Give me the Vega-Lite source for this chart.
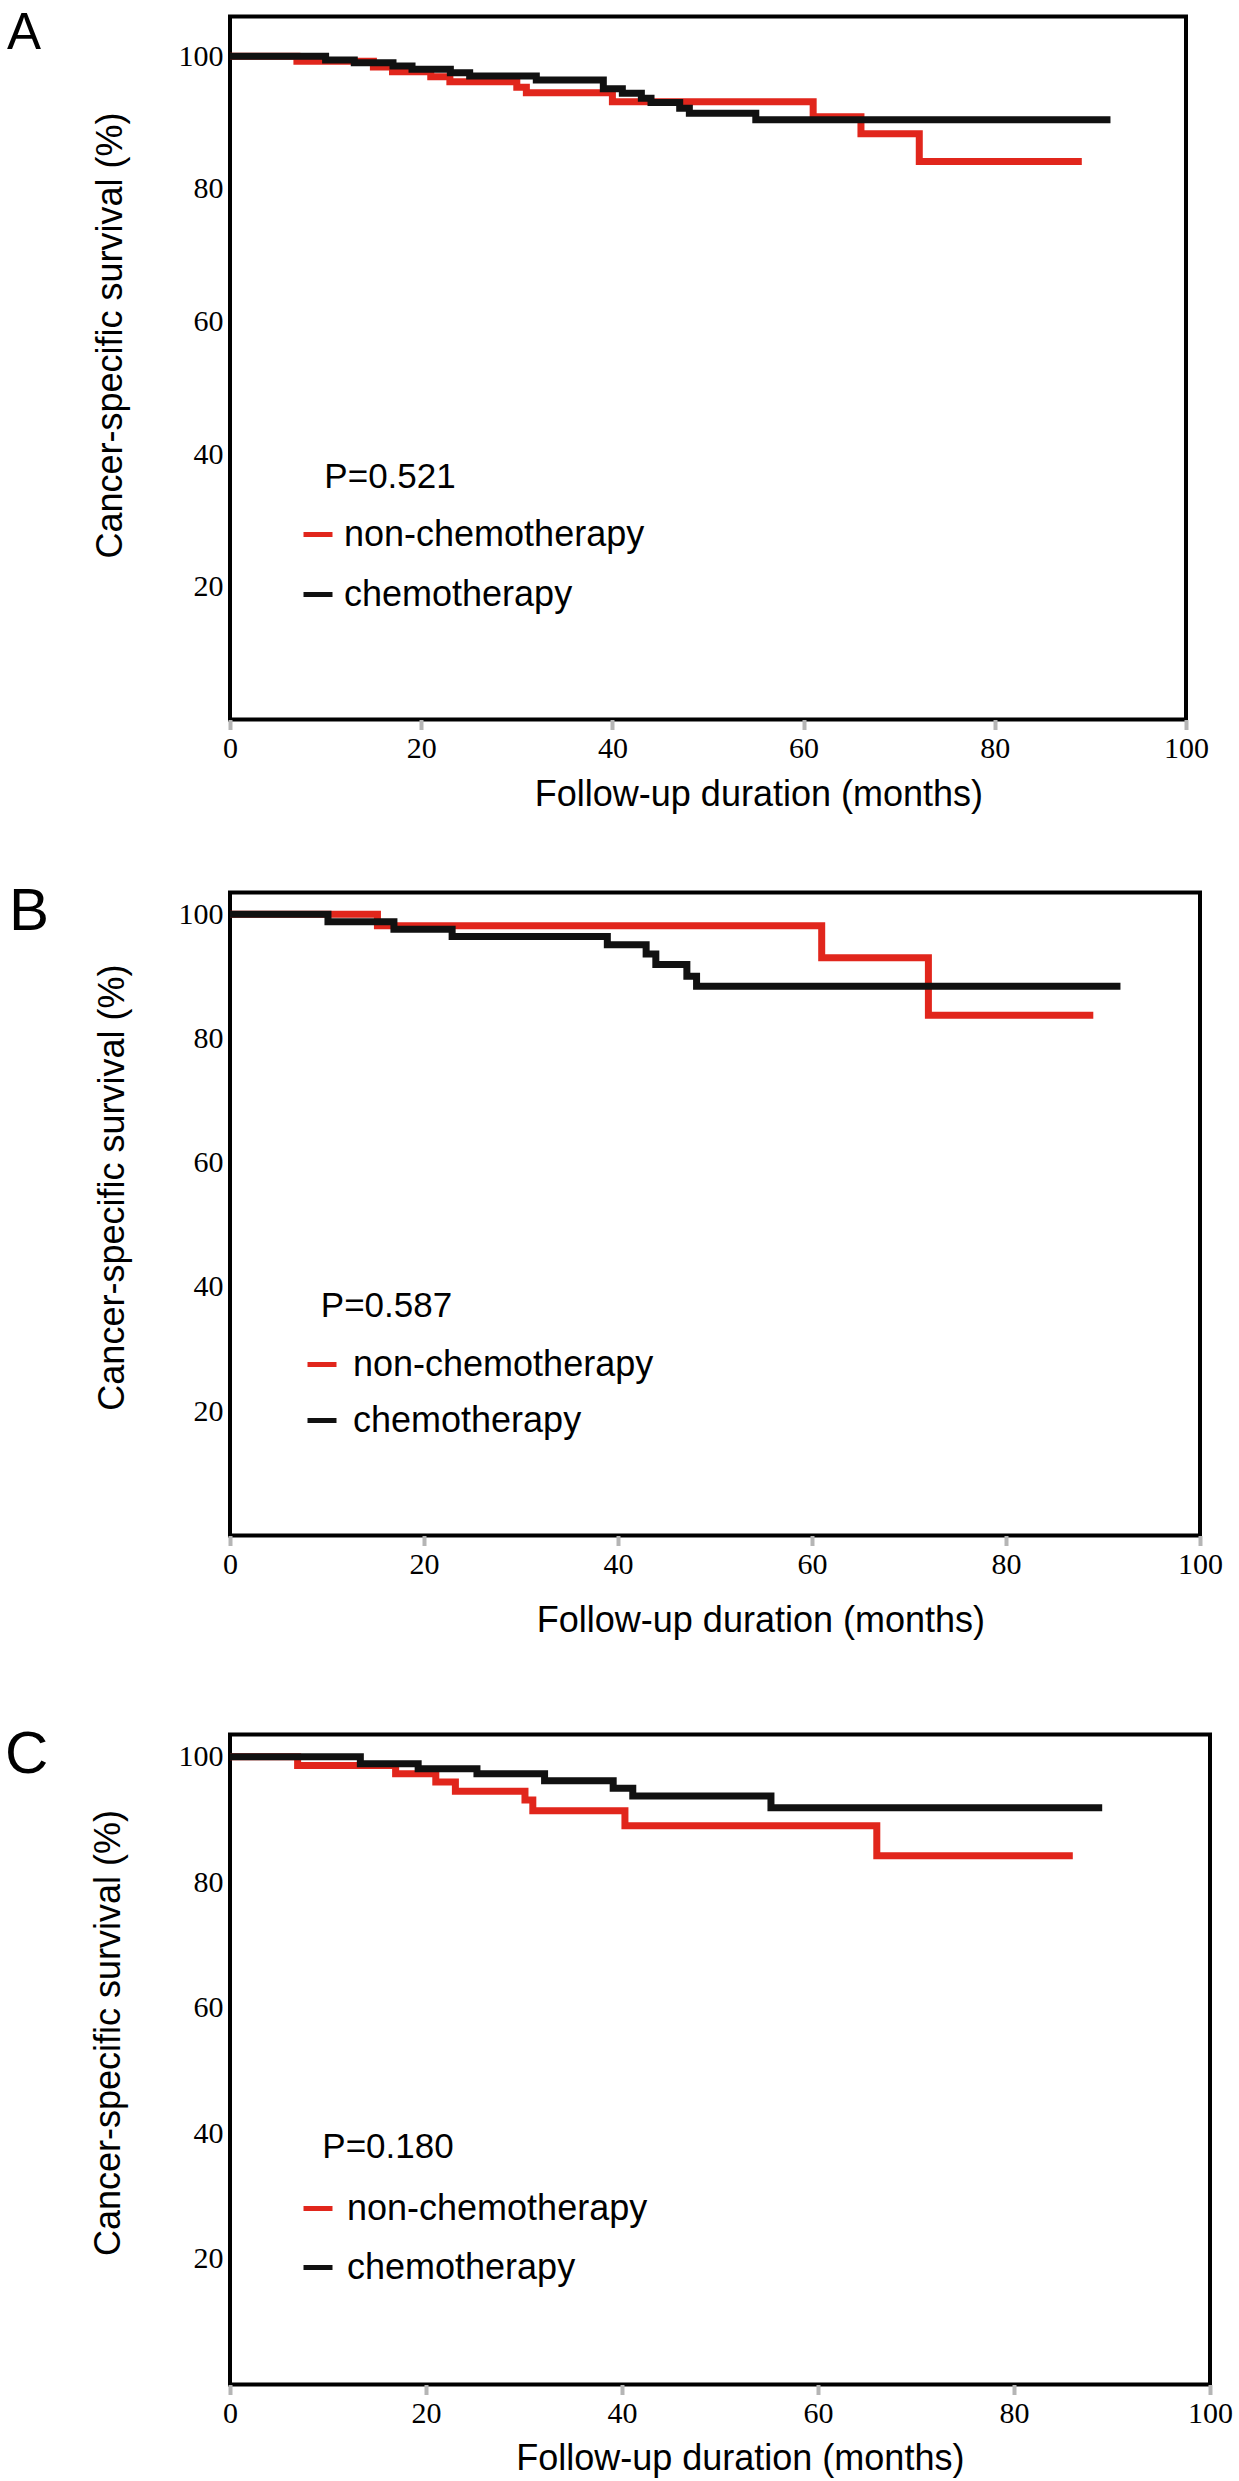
{
  "$schema": "https://vega.github.io/schema/vega-lite/v6.json",
  "padding": {"left": 2, "top": 5.5, "right": 0, "bottom": 0},
  "background": "white",
  "datasets": {
    "a": [
      {"group": "non-chemotherapy", "month": 0, "surv": 100},
      {"group": "non-chemotherapy", "month": 7.0, "surv": 99.24},
      {"group": "non-chemotherapy", "month": 15.0, "surv": 98.39},
      {"group": "non-chemotherapy", "month": 17.0, "surv": 97.68},
      {"group": "non-chemotherapy", "month": 21.0, "surv": 96.93},
      {"group": "non-chemotherapy", "month": 23.0, "surv": 96.18},
      {"group": "non-chemotherapy", "month": 30.0, "surv": 95.32},
      {"group": "non-chemotherapy", "month": 31.0, "surv": 94.52},
      {"group": "non-chemotherapy", "month": 40.0, "surv": 93.16},
      {"group": "non-chemotherapy", "month": 61.0, "surv": 90.9},
      {"group": "non-chemotherapy", "month": 66.0, "surv": 88.32},
      {"group": "non-chemotherapy", "month": 72.1, "surv": 84.14},
      {"group": "non-chemotherapy", "month": 89.1, "surv": 84.14},
      {"group": "chemotherapy", "month": 0, "surv": 100},
      {"group": "chemotherapy", "month": 10.0, "surv": 99.44},
      {"group": "chemotherapy", "month": 13.0, "surv": 99.04},
      {"group": "chemotherapy", "month": 17.05, "surv": 98.54},
      {"group": "chemotherapy", "month": 19.04, "surv": 98.04},
      {"group": "chemotherapy", "month": 23.05, "surv": 97.53},
      {"group": "chemotherapy", "month": 25.07, "surv": 97.03},
      {"group": "chemotherapy", "month": 32.04, "surv": 96.43},
      {"group": "chemotherapy", "month": 39.05, "surv": 95.12},
      {"group": "chemotherapy", "month": 41.04, "surv": 94.42},
      {"group": "chemotherapy", "month": 43.03, "surv": 93.66},
      {"group": "chemotherapy", "month": 44.04, "surv": 93.04},
      {"group": "chemotherapy", "month": 47.04, "surv": 92.16},
      {"group": "chemotherapy", "month": 48.05, "surv": 91.4},
      {"group": "chemotherapy", "month": 55.0, "surv": 90.43},
      {"group": "chemotherapy", "month": 92.1, "surv": 90.43}
    ],
    "b": [
      {"group": "non-chemotherapy", "month": 0, "surv": 100},
      {"group": "non-chemotherapy", "month": 15.2, "surv": 98.13},
      {"group": "non-chemotherapy", "month": 61.0, "surv": 93.0},
      {"group": "non-chemotherapy", "month": 72.0, "surv": 83.74},
      {"group": "non-chemotherapy", "month": 89.0, "surv": 83.74},
      {"group": "chemotherapy", "month": 0, "surv": 100},
      {"group": "chemotherapy", "month": 10.1, "surv": 98.8},
      {"group": "chemotherapy", "month": 16.9, "surv": 97.6},
      {"group": "chemotherapy", "month": 22.9, "surv": 96.4},
      {"group": "chemotherapy", "month": 38.9, "surv": 95.1},
      {"group": "chemotherapy", "month": 42.9, "surv": 93.6},
      {"group": "chemotherapy", "month": 43.9, "surv": 91.9},
      {"group": "chemotherapy", "month": 47.1, "surv": 90.0},
      {"group": "chemotherapy", "month": 48.1, "surv": 88.4},
      {"group": "chemotherapy", "month": 91.8, "surv": 88.4}
    ],
    "c": [
      {"group": "non-chemotherapy", "month": 0, "surv": 100},
      {"group": "non-chemotherapy", "month": 6.9, "surv": 98.6},
      {"group": "non-chemotherapy", "month": 16.9, "surv": 97.3},
      {"group": "non-chemotherapy", "month": 21.0, "surv": 96.0},
      {"group": "non-chemotherapy", "month": 23.0, "surv": 94.5},
      {"group": "non-chemotherapy", "month": 30.1, "surv": 93.1},
      {"group": "non-chemotherapy", "month": 30.9, "surv": 91.4},
      {"group": "non-chemotherapy", "month": 40.3, "surv": 89.0},
      {"group": "non-chemotherapy", "month": 66.0, "surv": 84.25},
      {"group": "non-chemotherapy", "month": 86.0, "surv": 84.25},
      {"group": "chemotherapy", "month": 0, "surv": 100},
      {"group": "chemotherapy", "month": 13.3, "surv": 98.9},
      {"group": "chemotherapy", "month": 19.2, "surv": 98.1},
      {"group": "chemotherapy", "month": 25.2, "surv": 97.3},
      {"group": "chemotherapy", "month": 32.1, "surv": 96.2},
      {"group": "chemotherapy", "month": 39.1, "surv": 95.0},
      {"group": "chemotherapy", "month": 41.1, "surv": 93.75},
      {"group": "chemotherapy", "month": 55.2, "surv": 91.9},
      {"group": "chemotherapy", "month": 89.0, "surv": 91.9}
    ]
  },
  "config": {
    "view": {"stroke": "#000000", "strokeWidth": 4, "fill": "white"},
    "axis": {
      "grid": false, "domain": false,
      "labelFont": "Liberation Serif", "labelFontSize": 30, "labelColor": "#000000",
      "labelFlush": false, "labelOverlap": false, "labelBound": false,
      "titleFont": "Liberation Sans", "titleFontSize": 36, "titleFontWeight": "normal", "titleColor": "#000000"
    },
    "axisX": {"tickColor": "#b5b5b5", "tickSize": 10, "tickWidth": 4, "labelPadding": 4, "labelDx": 4},
    "axisY": {"ticks": false, "tickSize": 0, "labelPadding": 7},
    "legend": {
      "title": null, "orient": "none", "direction": "vertical", "padding": 0,
      "symbolType": "stroke", "symbolStrokeWidth": 5, "symbolSize": 841,
      "labelFont": "Liberation Sans", "labelFontSize": 36, "labelColor": "#000000", "labelLimit": 0
    },
    "text": {"font": "Liberation Sans", "color": "#000000", "align": "left", "baseline": "alphabetic"}
  },
  "spacing": 82,
  "resolve": {"scale": {"color": "independent"}, "legend": {"color": "independent"}},
  "vconcat": [
    {
      "spacing": 65,
      "resolve": {"scale": {"color": "independent"}, "legend": {"color": "independent"}},
      "vconcat": [
        {
          "width": 956, "height": 703,
          "layer": [
            {
              "data": {"name": "a"},
              "mark": {"type": "line", "interpolate": "step-after", "strokeWidth": 7},
              "encoding": {
                "x": {"field": "month", "type": "quantitative", "scale": {"domain": [0, 100], "nice": false, "zero": false},
                      "axis": {"values": [0, 20, 40, 60, 80, 100], "title": "Follow-up duration (months)", "titleX": 528.4, "titleY": 85.5, "titleBaseline": "alphabetic", "titleAlign": "center"}},
                "y": {"field": "surv", "type": "quantitative", "scale": {"domain": [0, 106], "nice": false},
                      "axis": {"values": [20, 40, 60, 80, 100], "title": "Cancer-specific survival (%)", "titleX": -108.5, "titleY": 318.5, "titleBaseline": "alphabetic", "titleAlign": "center"}},
                "color": {"field": "group", "type": "nominal",
                          "scale": {"domain": ["non-chemotherapy", "chemotherapy"], "range": ["#e1261c", "#111111"]},
                          "legend": {"legendX": 70, "legendY": 500, "labelOffset": 8, "rowPadding": 24}}
              }
            },
            {
              "data": {"values": [{"t": "P=0.521"}]},
              "mark": {"type": "text", "fontSize": 35},
              "encoding": {"x": {"datum": 9.87, "type": "quantitative"}, "y": {"datum": 34.98, "type": "quantitative"}, "text": {"field": "t"}}
            },
            {
              "data": {"values": [{"t": "A"}]},
              "mark": {"type": "text", "fontSize": 51},
              "encoding": {"x": {"datum": -23.33, "type": "quantitative"}, "y": {"datum": 101.1, "type": "quantitative"}, "text": {"field": "t"}}
            }
          ]
        },
        {
          "width": 970, "height": 643,
          "layer": [
            {
              "data": {"name": "b"},
              "mark": {"type": "line", "interpolate": "step-after", "strokeWidth": 7},
              "encoding": {
                "x": {"field": "month", "type": "quantitative", "scale": {"domain": [0, 100], "nice": false, "zero": false},
                      "axis": {"values": [0, 20, 40, 60, 80, 100], "title": "Follow-up duration (months)", "titleX": 530.4, "titleY": 95.5, "titleBaseline": "alphabetic", "titleAlign": "center"}},
                "y": {"field": "surv", "type": "quantitative", "scale": {"domain": [0, 103.5], "nice": false},
                      "axis": {"values": [20, 40, 60, 80, 100], "title": "Cancer-specific survival (%)", "titleX": -106.7, "titleY": 294.6, "titleBaseline": "alphabetic", "titleAlign": "center"}},
                "color": {"field": "group", "type": "nominal",
                          "scale": {"domain": ["non-chemotherapy", "chemotherapy"], "range": ["#e1261c", "#111111"]},
                          "legend": {"legendX": 74, "legendY": 454, "labelOffset": 13, "rowPadding": 20}}
              }
            },
            {
              "data": {"values": [{"t": "P=0.587"}]},
              "mark": {"type": "text", "fontSize": 35},
              "encoding": {"x": {"datum": 9.36, "type": "quantitative"}, "y": {"datum": 35.19, "type": "quantitative"}, "text": {"field": "t"}}
            },
            {
              "data": {"values": [{"t": "B"}]},
              "mark": {"type": "text", "fontSize": 60},
              "encoding": {"x": {"datum": -22.78, "type": "quantitative"}, "y": {"datum": 97.54, "type": "quantitative"}, "text": {"field": "t"}}
            }
          ]
        }
      ]
    },
    {
      "width": 980, "height": 650,
      "layer": [
        {
          "data": {"name": "c"},
          "mark": {"type": "line", "interpolate": "step-after", "strokeWidth": 7},
          "encoding": {
            "x": {"field": "month", "type": "quantitative", "scale": {"domain": [0, 100], "nice": false, "zero": false},
                  "axis": {"values": [0, 20, 40, 60, 80, 100], "title": "Follow-up duration (months)", "titleX": 509.8, "titleY": 85, "titleBaseline": "alphabetic", "titleAlign": "center"}},
            "y": {"field": "surv", "type": "quantitative", "scale": {"domain": [0, 103.55], "nice": false},
                  "axis": {"values": [20, 40, 60, 80, 100], "title": "Cancer-specific survival (%)", "titleX": -110.7, "titleY": 298, "titleBaseline": "alphabetic", "titleAlign": "center"}},
            "color": {"field": "group", "type": "nominal",
                      "scale": {"domain": ["non-chemotherapy", "chemotherapy"], "range": ["#e1261c", "#111111"]},
                      "legend": {"legendX": 70, "legendY": 456, "labelOffset": 11, "rowPadding": 23}}
          }
        },
        {
          "data": {"values": [{"t": "P=0.180"}]},
          "mark": {"type": "text", "fontSize": 35},
          "encoding": {"x": {"datum": 9.42, "type": "quantitative"}, "y": {"datum": 36.16, "type": "quantitative"}, "text": {"field": "t"}}
        },
        {
          "data": {"values": [{"t": "C"}]},
          "mark": {"type": "text", "fontSize": 60},
          "encoding": {"x": {"datum": -22.96, "type": "quantitative"}, "y": {"datum": 97.34, "type": "quantitative"}, "text": {"field": "t"}}
        }
      ]
    }
  ]
}
